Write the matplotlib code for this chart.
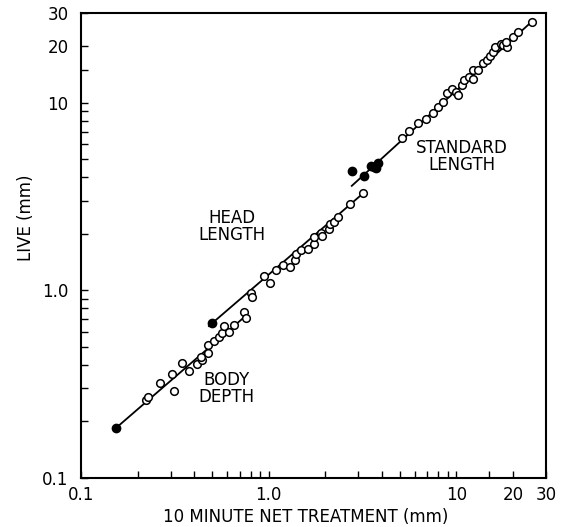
import matplotlib
matplotlib.use("Agg")
import matplotlib.pyplot as plt
import matplotlib.ticker as mticker

plt.rcParams.update({'font.size': 12, 'font.family': 'DejaVu Sans'})

# body depth (open circles) and its filled reference point
body_x = [0.222, 0.228, 0.264, 0.304, 0.313, 0.344, 0.376, 0.417, 0.440, 0.434,
          0.477, 0.477, 0.511, 0.543, 0.562, 0.578, 0.614, 0.653, 0.742, 0.754]
body_y = [0.260, 0.271, 0.320, 0.357, 0.292, 0.408, 0.372, 0.403, 0.425, 0.443,
          0.465, 0.511, 0.539, 0.562, 0.590, 0.645, 0.602, 0.653, 0.769, 0.709]
body_fill_x = [0.153]
body_fill_y = [0.184]
body_line_x = [0.153, 0.763]
body_line_y = [0.184, 0.738]

# head length
head_x = [0.802, 0.813, 0.944, 1.016, 1.094, 1.197, 1.30, 1.38, 1.40, 1.48,
          1.62, 1.74, 1.74, 1.89, 1.92, 2.10, 2.13, 2.23, 2.35, 2.71, 3.19]
head_y = [0.971, 0.918, 1.19, 1.098, 1.28, 1.364, 1.336, 1.45, 1.57, 1.63,
          1.65, 1.77, 1.93, 2.03, 1.95, 2.11, 2.25, 2.32, 2.45, 2.88, 3.29]
head_fill_x = [0.497]
head_fill_y = [0.667]
head_line_x = [0.48, 3.19]
head_line_y = [0.645, 3.29]

# standard length
std_x = [5.11, 5.61, 6.27, 6.89, 7.48, 7.95, 8.45, 8.88, 9.51, 10.0, 10.2,
         10.7, 11.0, 11.6, 12.3, 12.2, 13.1, 13.9, 14.5, 15.1, 15.7, 16.1,
         17.2, 17.8, 18.5, 18.4, 20.1, 21.4, 25.2]
std_y = [6.50, 7.06, 7.82, 8.15, 8.83, 9.45, 10.1, 11.2, 11.8, 11.4, 11.0,
         12.4, 13.2, 13.6, 13.4, 14.9, 14.9, 16.2, 16.9, 17.7, 18.7, 19.8,
         20.5, 20.2, 19.8, 21.1, 22.4, 23.9, 27.0]
std_fill_x = [2.79, 3.23, 3.49, 3.64, 3.71, 3.84]
std_fill_y = [4.34, 4.06, 4.59, 4.52, 4.46, 4.75]
std_line_x = [2.77, 25.2]
std_line_y = [3.60, 27.0]

major = [0.1, 1.0, 10, 20, 30]
major_labels = ['0.1', '1.0', '10', '20', '30']
minor = [0.2, 0.3, 0.4, 0.5, 0.6, 0.7, 0.8, 0.9, 2, 3, 4, 5, 6, 7, 8, 9, 15]

fig = plt.figure(figsize=(5.66, 5.27), dpi=100)
ax = fig.add_axes([81 / 566, 49 / 527, 465 / 566, 465 / 527])

for lx, ly in [(body_line_x, body_line_y), (head_line_x, head_line_y),
               (std_line_x, std_line_y)]:
    ax.plot(lx, ly, '-', color='black', lw=1.3, zorder=2)

for ox, oy in [(body_x, body_y), (head_x, head_y), (std_x, std_y)]:
    ax.plot(ox, oy, 'o', ms=5.5, mfc='white', mec='black', mew=1.1, zorder=3)

for fx, fy in [(body_fill_x, body_fill_y), (head_fill_x, head_fill_y),
               (std_fill_x, std_fill_y)]:
    ax.plot(fx, fy, 'o', ms=6, mfc='black', mec='black', zorder=4)

ax.set_xscale('log')
ax.set_yscale('log')
ax.set_xlim(0.1, 30)
ax.set_ylim(0.1, 30)

for axis in (ax.xaxis, ax.yaxis):
    axis.set_major_locator(mticker.FixedLocator(major))
    axis.set_major_formatter(mticker.FixedFormatter(major_labels))
    axis.set_minor_locator(mticker.FixedLocator(minor))
    axis.set_minor_formatter(mticker.NullFormatter())

ax.tick_params(which='both', direction='in', length=5, width=1,
               top=False, right=False, labelsize=12)
ax.tick_params(axis='x', pad=6)
ax.tick_params(axis='y', pad=9)
for sp in ax.spines.values():
    sp.set_linewidth(1.5)

ax.text(10.7, 5.15, 'STANDARD\nLENGTH', ha='center', va='center',
        fontsize=12, linespacing=0.95)
ax.text(0.635, 2.18, 'HEAD\nLENGTH', ha='center', va='center',
        fontsize=12, linespacing=0.95)
ax.text(0.597, 0.30, 'BODY\nDEPTH', ha='center', va='center',
        fontsize=12, linespacing=0.95)

ax.set_xlabel('10 MINUTE NET TREATMENT (mm)', fontsize=12, va='center')
ax.xaxis.set_label_coords(0.484, -0.084)
ax.set_ylabel('LIVE (mm)', fontsize=12, va='center')
ax.yaxis.set_label_coords(-0.118, 0.56)

fig.savefig('out.png', dpi=100)
